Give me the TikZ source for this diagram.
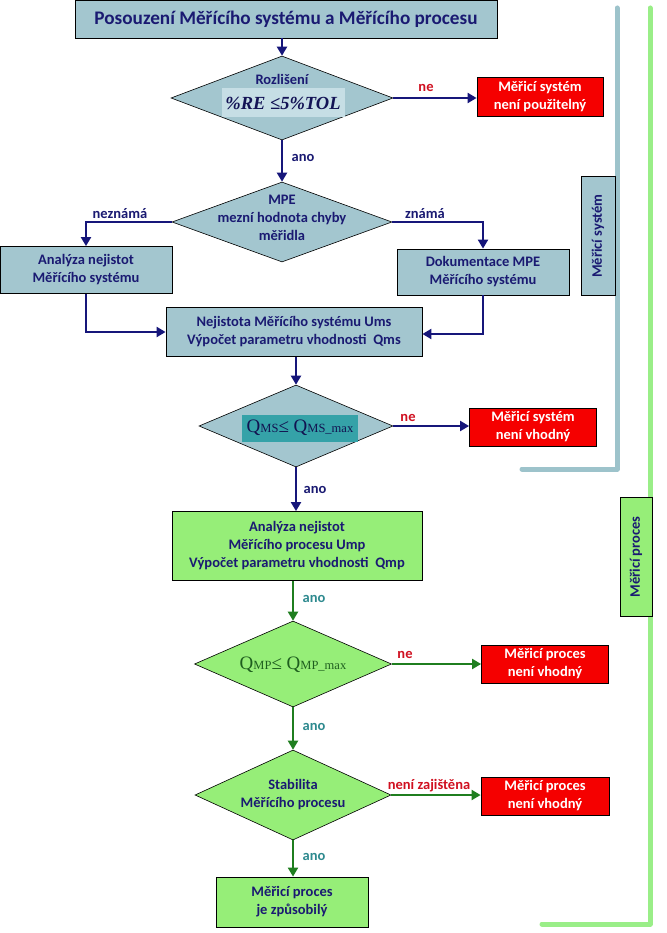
\documentclass[tikz,border=0pt]{standalone}
\usepackage{fontspec}
\setmainfont{Carlito}
\newfontfamily\serifq{Liberation Serif}
\usetikzlibrary{shapes.geometric,arrows.meta,positioning}
\definecolor{bluegray}{HTML}{A3C6CF}
\definecolor{bluegrayline}{HTML}{9DC3CB}
\definecolor{lightgreen}{HTML}{96EE78}
\definecolor{greenline}{HTML}{9AEE88}
\definecolor{navy}{HTML}{1A1A72}
\definecolor{navyline}{HTML}{16167A}
\definecolor{darkgreen}{HTML}{1F7E1F}
\definecolor{tealtxt}{HTML}{2E8A8F}
\definecolor{redbox}{HTML}{F50000}
\definecolor{labelred}{HTML}{D01020}
\definecolor{innerlight}{HTML}{C6DEE5}
\definecolor{innerteal}{HTML}{35A2A8}
\definecolor{qgreen}{HTML}{1E5E1E}
\tikzset{
  txt/.style={font=\fontsize{14.5}{18}\selectfont\bfseries, align=center},
  bluebox/.style={txt, draw=black, line width=0.8pt, fill=bluegray, text=navy, inner sep=0},
  greenbox/.style={txt, draw=black, line width=0.8pt, fill=lightgreen, text=navy, inner sep=0},
  redstop/.style={txt, draw=black, line width=0.8pt, fill=redbox, text=white, inner sep=0},
  bluedia/.style={diamond, draw=black, line width=0.6pt, fill=bluegray, inner sep=0},
  greendia/.style={diamond, draw=black, line width=0.6pt, fill=lightgreen, inner sep=0},
  barrow/.style={draw=navyline, line width=2pt, -{Triangle[length=9pt,width=10pt]}},
  garrow/.style={draw=darkgreen, line width=2pt, -{Triangle[length=9pt,width=10pt]}},
  nelbl/.style={txt, text=labelred},
  anob/.style={txt, text=navy},
  anog/.style={txt, text=tealtxt},
  sidelbl/.style={txt, draw=black, line width=0.8pt, rotate=90, inner sep=0, text=navy}
}
\begin{document}
\begin{tikzpicture}[x=1pt,y=-1pt]
\useasboundingbox (0,0) rectangle (666,933);
\fill[white] (0,0) rectangle (666,933);

% side brackets
\draw[bluegrayline, line width=5pt, line cap=round, line join=round] (617,8) -- (617,469) -- (522,469);
\draw[greenline, line width=5pt, line cap=round, line join=round] (650,8) -- (650,924) -- (542,924);
\node[sidelbl, fill=bluegray, minimum width=119pt, minimum height=34pt] (sys) at (598,236) {Měřicí systém};
\node[sidelbl, fill=lightgreen, minimum width=119pt, minimum height=32pt] (proc) at (636,557) {Měřicí proces};

% title
\node[bluebox, minimum width=422pt, minimum height=38pt, font=\fontsize{19.2}{22}\selectfont\bfseries] (title) at (286,19) {Posouzení Měřícího systému a Měřícího procesu};

% diamond 1
\node[bluedia, minimum width=222pt, minimum height=84pt] (d1) at (282,98) {};
\node[txt, text=navy] (d1t) at (282,79) {Rozlišení};
\node[fill=innerlight, minimum width=123pt, minimum height=29pt, inner sep=0, text=navy!75!black,
      font=\serifq\fontsize{18.5}{18.5}\selectfont\bfseries\itshape] (d1i) at (283,103) {\%RE ≤5\%TOL};
\node[redstop, minimum width=126pt, minimum height=39pt] (r1) at (540,97) {Měřicí systém\\není použitelný};
\draw[barrow] (title.south -| d1.north) -- (d1.north);
\draw[barrow] (d1.east) -- (d1.east -| r1.west);
\node[nelbl] (ne1) at (426,88) {ne};

% diamond 2
\node[bluedia, minimum width=220pt, minimum height=80pt] (d2) at (282,222) {};
\node[txt, text=navy] (d2t) at (282,218) {MPE\\mezní hodnota chyby\\měřidla};
\draw[barrow] (d1.south) -- (d2.north);
\node[anob] (ano1) at (303,158) {ano};
\node[bluebox, minimum width=172pt, minimum height=47pt] (an) at (86,270) {Analýza nejistot\\Měřícího systému};
\node[bluebox, minimum width=172pt, minimum height=46pt] (dok) at (483,272) {Dokumentace MPE\\Měřícího systému};
\node[bluebox, minimum width=256pt, minimum height=49pt] (nej) at (294,332) {Nejistota Měřícího systému Ums\\Výpočet parametru vhodnosti~~Qms};
\draw[barrow] (d2.west) -| (an.north);
\draw[barrow] (d2.east) -| (dok.north);
\node[anob] (nez) at (120,214) {neznámá};
\node[anob] (zn) at (425,214) {známá};
\draw[barrow] (an.south) |- (nej.west);
\draw[barrow] (dok.south) |- ([yshift=-2pt]nej.east);

% diamond 3
\node[bluedia, minimum width=194pt, minimum height=82pt] (d3) at (296,426) {};
\node[fill=innerteal, minimum width=116pt, minimum height=27pt, inner sep=0, text=navy!70!black] (d3i) at (300,428)
  {\serifq\fontsize{19}{19}\selectfont Q{\fontsize{12.5}{12.5}\selectfont MS}≤ Q{\fontsize{12.5}{12.5}\selectfont MS\_max}};
\draw[barrow] (nej.south -| d3.north) -- (d3.north);
\node[redstop, minimum width=127pt, minimum height=38pt] (r2) at (533,427) {Měřicí systém\\není vhodný};
\draw[barrow] (d3.east) -- (d3.east -| r2.west);
\node[nelbl] (ne2) at (408,418) {ne};

% green process
\node[greenbox, minimum width=250pt, minimum height=69pt] (ap) at (297,546) {Analýza nejistot\\Měřícího procesu Ump\\Výpočet parametru vhodnosti~~Qmp};
\draw[barrow] (d3.south) -- (d3.south |- ap.north);
\node[anob] (ano2) at (315,490) {ano};

\node[greendia, minimum width=197pt, minimum height=86pt] (d4) at (293,664) {};
\node[text=qgreen, inner sep=0] (d4t) at (293,665)
  {\serifq\fontsize{19}{19}\selectfont Q{\fontsize{12.5}{12.5}\selectfont MP}≤ Q{\fontsize{12.5}{12.5}\selectfont MP\_max}};
\draw[garrow] (ap.south -| d4.north) -- (d4.north);
\node[anog] (ano3) at (314,599) {ano};
\node[redstop, minimum width=127pt, minimum height=38pt] (r3) at (545,664) {Měřicí proces\\není vhodný};
\draw[garrow] (d4.east) -- (d4.east -| r3.west);
\node[nelbl] (ne3) at (405,655) {ne};

\node[greendia, minimum width=196pt, minimum height=90pt] (d5) at (293,795) {};
\node[txt, text=navy] (d5t) at (293,795) {Stabilita\\Měřícího procesu};
\draw[garrow] (d4.south) -- (d5.north);
\node[anog] (ano4) at (314,727) {ano};
\node[redstop, minimum width=128pt, minimum height=38pt] (r4) at (545,796) {Měřicí proces\\není vhodný};
\draw[garrow] (d5.east) -- (d5.east -| r4.west);
\node[nelbl] (ne4) at (429,786) {není zajištěna};

\node[greenbox, minimum width=152pt, minimum height=50pt] (ok) at (292,902) {Měřicí proces\\je způsobilý};
\draw[garrow] (d5.south) -- (d5.south |- ok.north);
\node[anog] (ano5) at (314,857) {ano};
\end{tikzpicture}
\end{document}
